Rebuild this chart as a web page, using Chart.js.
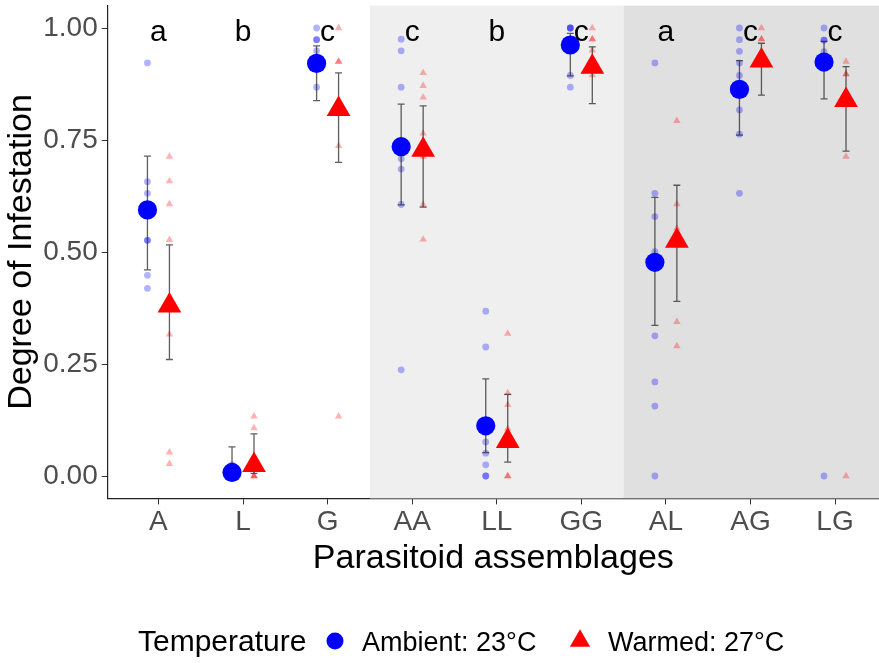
<!DOCTYPE html>
<html>
<head>
<meta charset="utf-8">
<script src="https://cdn.jsdelivr.net/npm/chart.js@4.4.1/dist/chart.umd.min.js"></script>
<style>
  html, body { margin: 0; padding: 0; background: #fff; }
  #chart { display: block; }
</style>
</head>
<body>
<canvas id="chart" width="879" height="663"></canvas>
<script>
// du lieu doc tu hinh
const categories = ["A", "L", "G", "AA", "LL", "GG", "AL", "AG", "LG"];
const letters = ["a", "b", "c", "c", "b", "c", "a", "c", "c"];
const yTicks = [0, 0.25, 0.5, 0.75, 1];

const ambientMean = [0.594, 0.008, 0.921, 0.735, 0.112, 0.962, 0.477, 0.863, 0.924];
const ambientLow  = [0.460, 0.000, 0.838, 0.605, 0.052, 0.893, 0.336, 0.761, 0.842];
const ambientHigh = [0.714, 0.065, 0.960, 0.830, 0.217, 0.988, 0.622, 0.927, 0.970];

const warmedMean = [0.380, 0.024, 0.819, 0.728, 0.078, 0.913, 0.525, 0.927, 0.839];
const warmedLow  = [0.260, 0.006, 0.700, 0.600, 0.031, 0.831, 0.390, 0.850, 0.725];
const warmedHigh = [0.516, 0.094, 0.900, 0.826, 0.182, 0.958, 0.649, 0.966, 0.914];

const ambientRaw = [
    [0.922, 0.657, 0.631, 0.526, 0.526, 0.448, 0.419],
    [0, 0, 0, 0, 0.025, 0],
    [1.0, 0.974, 0.974, 0.949, 0.921, 0.868],
    [0.975, 0.949, 0.868, 0.708, 0.685, 0.606, 0.237],
    [0.368, 0.288, 0.076, 0.051, 0.025, 0, 0],
    [1.0, 1.0, 1.0, 0.962, 0.894, 0.868],
    [0.922, 0.631, 0.579, 0.501, 0.313, 0.210, 0.156, 0],
    [1.0, 0.974, 0.948, 0.922, 0.894, 0.817, 0.763, 0.631],
    [1.0, 0.973, 0.973, 0.947, 0]
];
const warmedRaw = [
    [0.713, 0.658, 0.607, 0.527, 0.316, 0.053, 0.027],
    [0.133, 0.107, 0, 0, 0],
    [1.0, 0.925, 0.925, 0.737, 0.133],
    [0.900, 0.871, 0.845, 0.765, 0.713, 0.606, 0.528],
    [0.318, 0.185, 0.159, 0.106, 0, 0],
    [1.0, 0.975, 0.975, 0.950, 0.895],
    [0.793, 0.607, 0.553, 0.344, 0.290],
    [1.0, 0.975, 0.975],
    [0.925, 0.897, 0.897, 0.713, 0]
];

const DODGE = 0.13;
const FONT = "'Liberation Sans', Arial, sans-serif";

function rawPoints(raw, shift) {
    let pts = [];
    raw.forEach((list, i) => {
        list.forEach(v => pts.push({ x: i + 1 + shift, y: v }));
    });
    return pts;
}

function meanPoints(means, shift) {
    return means.map((v, i) => ({ x: i + 1 + shift, y: v }));
}

// nen xam cho cac nhom AA-GG va AL-LG
const bandPlugin = {
    id: "bands",
    beforeDatasetsDraw(chart) {
        const { ctx, chartArea, scales } = chart;
        const x = scales.x;
        ctx.save();
        ctx.fillStyle = "#efefef";
        ctx.fillRect(x.getPixelForValue(3.5), chartArea.top,
            x.getPixelForValue(6.5) - x.getPixelForValue(3.5), chartArea.bottom - chartArea.top);
        ctx.fillStyle = "#e0e0e0";
        ctx.fillRect(x.getPixelForValue(6.5), chartArea.top,
            chartArea.right - x.getPixelForValue(6.5), chartArea.bottom - chartArea.top);
        ctx.restore();
    }
};

// thanh sai so, ve truoc cac diem trung binh
const errorBarPlugin = {
    id: "errorBars",
    beforeDatasetDraw(chart, args) {
        if (args.index !== 1) return;
        const { ctx, scales } = chart;
        ctx.save();
        ctx.strokeStyle = "rgba(40,40,40,0.75)";
        ctx.lineWidth = 1.3;
        const draw = (lows, highs, shift) => {
            lows.forEach((lo, i) => {
                const px = scales.x.getPixelForValue(i + 1 + shift);
                const y1 = scales.y.getPixelForValue(lo);
                const y2 = scales.y.getPixelForValue(highs[i]);
                ctx.beginPath();
                ctx.moveTo(px, y1); ctx.lineTo(px, y2);
                ctx.moveTo(px - 3.5, y1); ctx.lineTo(px + 3.5, y1);
                ctx.moveTo(px - 3.5, y2); ctx.lineTo(px + 3.5, y2);
                ctx.stroke();
            });
        };
        draw(ambientLow, ambientHigh, -DODGE);
        draw(warmedLow, warmedHigh, DODGE);
        ctx.restore();
    }
};

// chu cai a/b/c va chu giai phia duoi
const labelPlugin = {
    id: "labels",
    afterDraw(chart) {
        const { ctx, scales } = chart;
        ctx.save();
        ctx.fillStyle = "#000";
        ctx.textAlign = "center";
        ctx.textBaseline = "alphabetic";
        ctx.font = "30px " + FONT;
        letters.forEach((t, i) => {
            ctx.fillText(t, scales.x.getPixelForValue(i + 1), scales.y.getPixelForValue(0.97));
        });

        // legend
        ctx.textAlign = "left";
        ctx.font = "30px " + FONT;
        ctx.fillText("Temperature", 138, 651);
        ctx.fillStyle = "#0000ff";
        ctx.beginPath();
        ctx.arc(335, 641, 8.5, 0, Math.PI * 2);
        ctx.fill();
        ctx.fillStyle = "#000";
        ctx.font = "27px " + FONT;
        ctx.fillText("Ambient: 23°C", 362, 651);
        ctx.fillStyle = "#ff0000";
        const r = 11.7, cx = 580, cy = 641;
        ctx.beginPath();
        ctx.moveTo(cx, cy - r);
        ctx.lineTo(cx + r * 0.866, cy + r / 2);
        ctx.lineTo(cx - r * 0.866, cy + r / 2);
        ctx.closePath();
        ctx.fill();
        ctx.fillStyle = "#000";
        ctx.fillText("Warmed: 27°C", 608, 651);
        ctx.restore();
    }
};

document.addEventListener("DOMContentLoaded", function () {
    const ctx = document.getElementById("chart");

    new Chart(ctx, {
        type: "scatter",
        data: {
            datasets: [
                {
                    label: "Ambient mean",
                    data: meanPoints(ambientMean, -DODGE),
                    pointStyle: "circle",
                    pointRadius: 9.6,
                    backgroundColor: "#0000ff",
                    borderWidth: 0
                },
                {
                    label: "Warmed mean",
                    data: meanPoints(warmedMean, DODGE),
                    pointStyle: "triangle",
                    pointRadius: 13.7,
                    backgroundColor: "#ff0000",
                    borderWidth: 0
                },
                {
                    label: "Ambient raw",
                    data: rawPoints(ambientRaw, -DODGE),
                    pointStyle: "circle",
                    pointRadius: 3.4,
                    backgroundColor: "rgba(0,0,255,0.3)",
                    borderWidth: 0
                },
                {
                    label: "Warmed raw",
                    data: rawPoints(warmedRaw, DODGE),
                    pointStyle: "triangle",
                    pointRadius: 4.3,
                    backgroundColor: "rgba(255,0,0,0.3)",
                    borderWidth: 0
                }
            ]
        },
        options: {
            responsive: false,
            animation: false,
            devicePixelRatio: 1,
            layout: { autoPadding: false, padding: { top: 5.6, right: 0, bottom: 0, left: 0 } },
            plugins: {
                legend: { display: false },
                tooltip: { enabled: false }
            },
            scales: {
                x: {
                    type: "linear",
                    min: 0.4,
                    max: 9.52,
                    afterBuildTicks: scale => {
                        scale.ticks = categories.map((c, i) => ({ value: i + 1 }));
                    },
                    afterFit: scale => {
                        scale.height = 164.6;
                        scale.paddingLeft = 0;
                        scale.paddingRight = 0;
                    },
                    grid: { drawOnChartArea: false, drawTicks: true, tickLength: 6, tickColor: "#333", lineWidth: 1 },
                    border: { display: true, color: "#222", width: 1.2 },
                    ticks: {
                        callback: v => categories[Math.round(v) - 1],
                        color: "#4d4d4d",
                        font: { family: FONT, size: 28 },
                        padding: 1,
                        maxRotation: 0,
                        autoSkip: false
                    },
                    title: {
                        display: true,
                        text: "Parasitoid assemblages",
                        color: "#000",
                        font: { family: FONT, size: 34 },
                        padding: { top: 0, bottom: 84 }
                    }
                },
                y: {
                    min: -0.05,
                    max: 1.05,
                    afterBuildTicks: scale => {
                        scale.ticks = yTicks.map(v => ({ value: v }));
                    },
                    afterFit: scale => {
                        scale.width = 107.7;
                        scale.paddingTop = 0;
                        scale.paddingBottom = 0;
                    },
                    grid: { drawOnChartArea: false, drawTicks: true, tickLength: 6, tickColor: "#333", lineWidth: 1 },
                    border: { display: true, color: "#222", width: 1.2 },
                    ticks: {
                        callback: v => v.toFixed(2),
                        color: "#4d4d4d",
                        font: { family: FONT, size: 28 },
                        padding: 4
                    },
                    title: {
                        display: true,
                        text: "Degree of Infestation",
                        color: "#000",
                        font: { family: FONT, size: 34 },
                        padding: { top: 1, bottom: 0 }
                    }
                }
            }
        },
        plugins: [bandPlugin, errorBarPlugin, labelPlugin]
    });
});
</script>
</body>
</html>
